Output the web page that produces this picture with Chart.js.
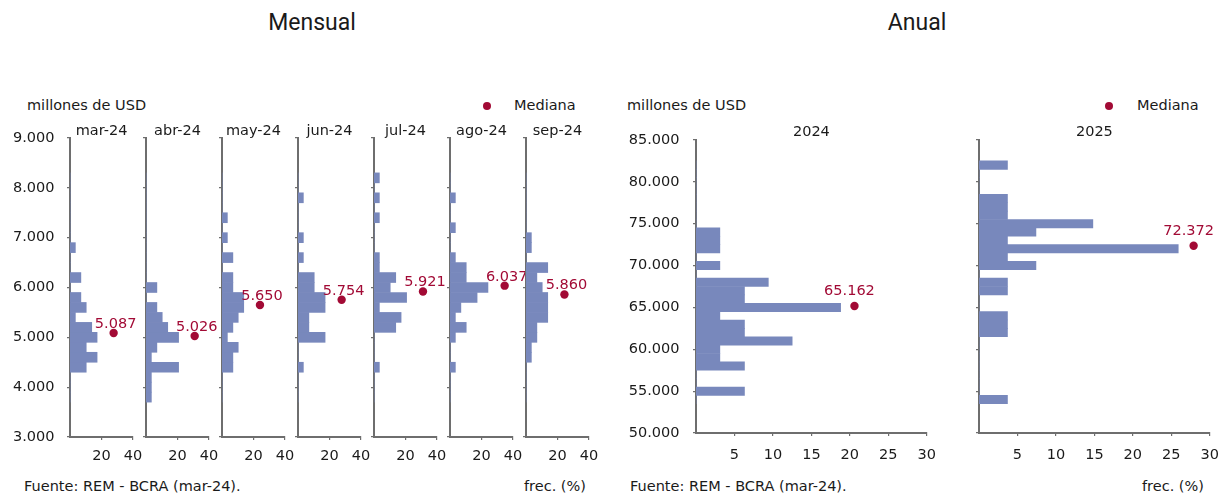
<!DOCTYPE html>
<html lang="es">
<head>
<meta charset="utf-8">
<title>REM - distribución de expectativas</title>
<script src="https://cdn.jsdelivr.net/npm/chart.js@4.4.1/dist/chart.umd.min.js"></script>
<style>
  html, body { margin: 0; padding: 0; background: #fff; }
  #page { position: relative; width: 1225px; height: 495px; overflow: hidden;
          font-family: 'DejaVu Sans', sans-serif; color: #1a1a1a; }
  #page canvas { position: absolute; }
  .txt { position: absolute; white-space: nowrap; font-size: 14.5px; line-height: 17px; }
  .head { position: absolute; white-space: nowrap; font-family: Roboto, sans-serif;
          font-size: 23px; line-height: 26px; transform: translateX(-50%); }
  .dot { position: absolute; width: 8px; height: 8px; border-radius: 50%; background: #a20a35; }
</style>
</head>
<body>
<div id="page">
  <div class="head" style="left:312px; top:10px">Mensual</div>
  <div class="head" style="left:917px; top:10px">Anual</div>

  <div class="txt" style="left:27px; top:97px">millones de USD</div>
  <div class="dot" style="left:483px; top:102px"></div>
  <div class="txt" style="left:514px; top:97px">Mediana</div>

  <div class="txt" style="left:627px; top:97px">millones de USD</div>
  <div class="dot" style="left:1105px; top:102px"></div>
  <div class="txt" style="left:1137px; top:97px">Mediana</div>

  <div class="txt" style="left:24px; top:478px">Fuente: REM - BCRA (mar-24).</div>
  <div class="txt" style="left:524px; top:478px">frec. (%)</div>
  <div class="txt" style="left:630px; top:478px">Fuente: REM - BCRA (mar-24).</div>
  <div class="txt" style="left:1142px; top:478px">frec. (%)</div>
</div>

<script>
// ─── Data ─────────────────────────────────────────────────────────────────────

const monthLabels = ['mar-24', 'abr-24', 'may-24', 'jun-24', 'jul-24', 'ago-24', 'sep-24'];

// bin centres, millones de USD (bins of 200)
const monthBins = [3800, 4000, 4200, 4400, 4600, 4800, 5000, 5200, 5400, 5600, 5800, 6000,
                   6200, 6400, 6600, 6800, 7000, 7200, 7400, 7600, 7800, 8000, 8200];

// frecuencia (%) per bin
const freqMar = [0, 0, 0, 10.3, 17.2, 10.3, 17.2, 13.8, 3.4, 10.3, 6.9, 0, 6.9, 0, 0, 3.4, 0, 0, 0, 0, 0, 0, 0];
const freqAbr = [3.4, 3.4, 3.4, 20.7, 3.4, 6.9, 20.7, 13.8, 10.3, 6.9, 0, 6.9, 0, 0, 0, 0, 0, 0, 0, 0, 0, 0, 0];
const freqMay = [0, 0, 0, 6.9, 6.9, 10.3, 3.4, 6.9, 10.3, 13.8, 13.8, 6.9, 6.9, 0, 6.9, 0, 3.4, 0, 3.4, 0, 0, 0, 0];
const freqJun = [0, 0, 0, 3.4, 0, 0, 17.2, 6.9, 6.9, 17.2, 17.2, 10.3, 10.3, 0, 3.4, 0, 3.4, 0, 0, 0, 3.4, 0, 0];
const freqJul = [0, 0, 0, 3.4, 0, 0, 0, 13.8, 17.2, 3.4, 20.7, 10.3, 13.8, 3.4, 3.4, 0, 0, 0, 3.4, 0, 3.4, 0, 3.4];
const freqAgo = [0, 0, 0, 3.4, 0, 0, 3.4, 10.3, 3.4, 6.9, 17.2, 24.1, 10.3, 10.3, 3.4, 0, 0, 3.4, 0, 0, 3.4, 0, 0];
const freqSep = [0, 0, 0, 0, 3.4, 3.4, 6.9, 6.9, 13.8, 13.8, 13.8, 10.3, 6.9, 13.8, 0, 3.4, 3.4, 0, 0, 0, 0, 0, 0];

const monthMedians = [5087, 5026, 5650, 5754, 5921, 6037, 5860];
const monthMedianFreq = [27.7, 30.9, 24.1, 27.7, 31.1, 34.7, 24.4];   // where the dot sits on the frec. axis

const monthYTicks = [3000, 4000, 5000, 6000, 7000, 8000, 9000];
const monthXTicks = [20, 40];

const yearLabels = ['2024', '2025'];

// bin centres, millones de USD (bins of 1.000)
const yearBins = [54000, 55000, 56000, 57000, 58000, 59000, 60000, 61000, 62000, 63000,
                  64000, 65000, 66000, 67000, 68000, 69000, 70000, 71000, 72000, 73000,
                  74000, 75000, 76000, 77000, 78000, 79000, 80000, 81000, 82000];

const freq2024 = [0, 6.3, 0, 0, 6.3, 3.1, 3.1, 12.5, 6.3, 6.3, 3.1, 18.8, 6.3, 6.3, 9.4,
                  0, 3.1, 0, 3.1, 3.1, 3.1, 0, 0, 0, 0, 0, 0, 0, 0];
const freq2025 = [3.7, 0, 0, 0, 0, 0, 0, 0, 3.7, 3.7, 3.7, 0, 0, 3.7, 3.7,
                  0, 7.4, 3.7, 25.9, 3.7, 7.4, 14.8, 3.7, 3.7, 3.7, 0, 0, 0, 3.7];

const yearMedians = [65162, 72372];
const yearMedianFreq = [20.6, 27.9];

const yearYTicks = [50000, 55000, 60000, 65000, 70000, 75000, 80000, 85000];
const yearXTicks = [5, 10, 15, 20, 25, 30];

// ─── Styles ───────────────────────────────────────────────────────────────────

const BAR = '#7888bc';
const RED = '#a20a35';
const INK = '#1a1a1a';
const AXIS = '#6e6e6e';
const FONT = { family: "'DejaVu Sans', sans-serif", size: 14.5 };

const fmt = (v) => String(Math.round(v)).replace(/\B(?=(\d{3})+(?!\d))/g, '.');

// ─── Panel builder ────────────────────────────────────────────────────────────

function panelText(title, median, p) {
  return {
    id: 'panelText',
    afterDraw(chart) {
      const { ctx, chartArea } = chart;
      const pt = chart.getDatasetMeta(1).data[0];
      ctx.save();
      ctx.font = "14.5px 'DejaVu Sans', sans-serif";
      ctx.textAlign = 'center';
      ctx.textBaseline = 'alphabetic';
      ctx.fillStyle = INK;
      ctx.fillText(title, (chartArea.left + chartArea.right) / 2, chartArea.top - p.titleGap);
      ctx.fillStyle = RED;
      ctx.fillText(fmt(median), pt.x + p.labelDx, pt.y - p.labelDy);
      ctx.restore();
    },
  };
}

function drawPanel(p) {
  const page = document.getElementById('page');
  const canvas = document.createElement('canvas');
  canvas.width = p.width;
  canvas.height = p.height;
  canvas.style.left = p.left + 'px';
  canvas.style.top = p.top + 'px';
  page.appendChild(canvas);

  new Chart(canvas, {
    type: 'bar',
    data: {
      datasets: [
        {
          type: 'bar',
          indexAxis: 'y',
          data: p.bins.map((b, k) => ({ x: p.freq[k], y: b })),
          backgroundColor: BAR,
          borderWidth: 0,
          barPercentage: 1,
          categoryPercentage: 1,
        },
        {
          type: 'scatter',
          data: [{ x: p.medianFreq, y: p.median }],
          backgroundColor: RED,
          borderWidth: 0,
          pointRadius: 4.2,
        },
      ],
    },
    options: {
      responsive: false,
      animation: false,
      events: [],
      layout: { padding: { top: p.padTop, right: p.padRight, left: 0, bottom: 0 } },
      plugins: { legend: { display: false }, tooltip: { enabled: false } },
      scales: {
        x: {
          type: 'linear',
          z: 1,
          min: 0,
          max: p.xMax,
          offset: false,
          grid: { offset: false, drawOnChartArea: false, tickLength: 3, color: AXIS, lineWidth: 1.2 },
          border: { color: AXIS, width: 2 },
          ticks: { font: FONT, color: INK, padding: p.xPad, maxRotation: 0, callback: (v) => v },
          afterBuildTicks: (s) => { s.ticks = p.xTicks.map((v) => ({ value: v })); },
          afterFit: (s) => { s.height = 40; },
        },
        y: {
          type: 'linear',
          z: 1,
          min: p.yTicks[0],
          max: p.yTicks[p.yTicks.length - 1],
          offset: false,
          grid: { offset: false, drawOnChartArea: false, tickLength: 3, color: AXIS, lineWidth: 1.2 },
          border: { color: AXIS, width: 2 },
          ticks: { font: FONT, color: INK, padding: p.yPad, callback: (v) => (p.showY ? fmt(v) : '') },
          afterBuildTicks: (s) => { s.ticks = p.yTicks.map((v) => ({ value: v })); },
          afterFit: (s) => { s.width = p.yWidth; },
        },
      },
    },
    plugins: [panelText(p.title, p.median, p)],
  });
}

// ─── Mensual ──────────────────────────────────────────────────────────────────

const monthFreqs = [freqMar, freqAbr, freqMay, freqJun, freqJul, freqAgo, freqSep];

monthLabels.forEach((label, i) => {
  const axisX = 70 + 76 * i;
  drawPanel({
    title: label,
    bins: monthBins,
    freq: monthFreqs[i],
    median: monthMedians[i],
    medianFreq: monthMedianFreq[i],
    xMax: 40,
    xTicks: monthXTicks,
    yTicks: monthYTicks,
    showY: i === 0,
    left: axisX - 62,
    top: 112,
    width: 62 + 63 + 34,
    height: 437 + 40 - 112,
    padTop: 26,
    padRight: 34,
    yWidth: 62,
    yPad: 12.5,
    xPad: 8,
    titleGap: 3,
    labelDx: 2,
    labelDy: 5,
  });
});

// ─── Anual ────────────────────────────────────────────────────────────────────

const yearFreqs = [freq2024, freq2025];

yearLabels.forEach((label, j) => {
  const axisX = [696, 979][j];
  drawPanel({
    title: label,
    bins: yearBins,
    freq: yearFreqs[j],
    median: yearMedians[j],
    medianFreq: yearMedianFreq[j],
    xMax: 30,
    xTicks: yearXTicks,
    yTicks: yearYTicks,
    showY: j === 0,
    left: axisX - 80,
    top: 112,
    width: 80 + 236 + 15,
    height: 433 + 40 - 112,
    padTop: 28,
    padRight: 15,
    yWidth: 80,
    yPad: 13.5,
    xPad: 11,
    titleGap: 4,
    labelDx: -5,
    labelDy: 11,
  });
});
</script>
</body>
</html>
